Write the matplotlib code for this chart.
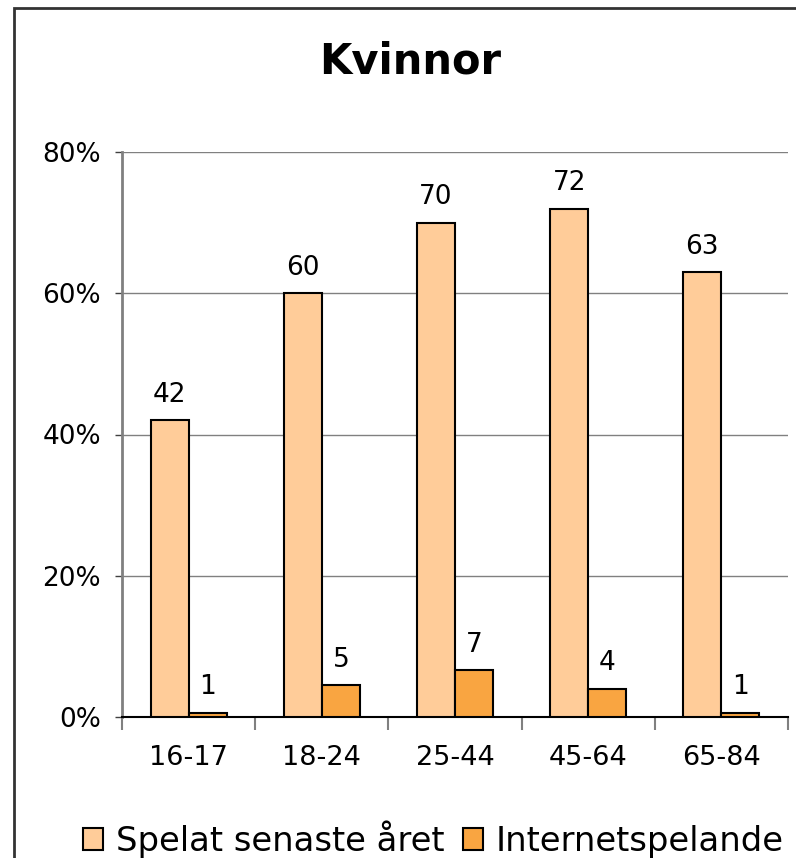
import numpy as np
import matplotlib.pyplot as plt
from matplotlib.patches import Rectangle

# data
age_groups = ["16-17", "18-24", "25-44", "45-64", "65-84"]
spelat = [42, 60, 70, 72, 63]
spelat_labels = ["42", "60", "70", "72", "63"]
internet = [0.6, 4.5, 6.6, 4.0, 0.6]
internet_labels = ["1", "5", "7", "4", "1"]

light = "#FFCC99"
dark = "#F9A541"

fig = plt.figure(figsize=(7.96, 8.58), dpi=100)
ax = fig.add_axes([122/796, 141/858, 666/796, 565/858])

x = np.arange(len(age_groups))
w = 0.286
b1 = ax.bar(x - w/2, spelat, w, color=light, edgecolor="black", linewidth=1.5,
            label="Spelat senaste året", zorder=3)
b2 = ax.bar(x + w/2, internet, w, color=dark, edgecolor="black", linewidth=1.5,
            label="Internetspelande", zorder=3)

for xi, v, t in zip(x, spelat, spelat_labels):
    ax.text(xi - w/2, v + 3.6, t, ha="center", va="center", fontsize=19)
for xi, v, t in zip(x, internet, internet_labels):
    ax.text(xi + w/2, v + 3.6, t, ha="center", va="center", fontsize=19)

ax.set_xlim(-0.5, len(age_groups) - 0.5)
ax.set_ylim(0, 80)
ax.set_yticks([0, 20, 40, 60, 80])
ax.set_yticklabels(["0%", "20%", "40%", "60%", "80%"], fontsize=19)
ax.yaxis.grid(True, color="#808080", linewidth=1, zorder=0)

# category ticks at the boundaries, labels centred
ax.set_xticks(np.arange(-0.5, len(age_groups)), minor=False)
ax.set_xticklabels([])
ax.set_xticks(x, minor=True)
ax.set_xticklabels(age_groups, minor=True, fontsize=19.5)
ax.tick_params(axis="x", which="major", length=9, color="#808080", width=1.5)
ax.tick_params(axis="x", which="minor", length=0, pad=20)
ax.tick_params(axis="y", length=5, color="#404040", width=1, pad=10)

for s in ["top", "right"]:
    ax.spines[s].set_visible(False)
ax.spines["left"].set_color("#808080")
ax.spines["left"].set_linewidth(2)
ax.spines["bottom"].set_color("black")
ax.spines["bottom"].set_linewidth(1.5)

fig.text(0.515, 0.928, "Kvinnor", ha="center", va="center", fontsize=30,
         fontweight="bold")

fig.legend(handles=[b1, b2], loc="center left", bbox_to_anchor=(83/796, 0.022),
           ncol=2, frameon=False, fontsize=24.4, handlelength=0.6,
           handleheight=0.6, handletextpad=0.36, columnspacing=0.55,
           borderaxespad=0, borderpad=0)

# outer chart border (cut off at right and bottom)
fig.patches.append(Rectangle((14/796, -0.1), 1.2, 1.1 - 8/858, transform=fig.transFigure,
                             fill=False, edgecolor="#333333", linewidth=2))

fig.savefig("out.png", dpi=100)
